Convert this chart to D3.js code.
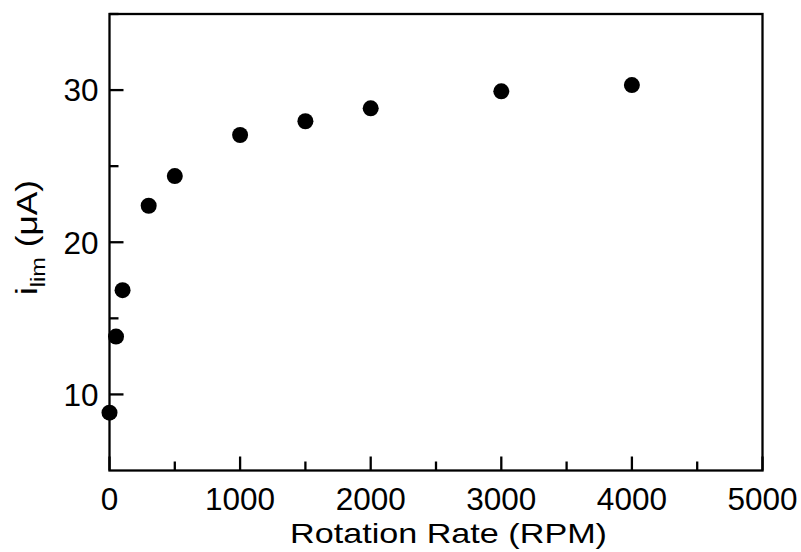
<html><head>
<meta charset="utf-8">
<script src="https://d3js.org/d3.v7.min.js"></script>
<style>
  body { margin: 0; background: #fff; }
  text { font-family: "Liberation Sans", Arial, sans-serif; fill: #000; }
  .frame { stroke: #000; stroke-width: 2.3px; fill: none; }
</style>
</head>
<body>
<svg id="chart" width="801" height="552"></svg>
<script>

// data
const rpm = [0, 50, 100, 300, 500, 1000, 1500, 2000, 3000, 4000];
const ilim = [8.8, 13.8, 16.85, 22.4, 24.35, 27.05, 27.95, 28.8, 29.92, 30.33];
const xMajor = [0, 1000, 2000, 3000, 4000, 5000];
const xMinor = [500, 1500, 2500, 3500, 4500];
const yMajor = [10, 20, 30];
const yMinor = [15, 25, 35];

const svg = d3.select("#chart");
const margin = { top: 14, right: 38.5, bottom: 81.5, left: 109.5 };
const width = 801, height = 552;

const x = d3.scaleLinear().domain([0, 5000]).range([margin.left, width - margin.right]);
const y = d3.scaleLinear().domain([5, 35]).range([height - margin.bottom, margin.top]);

// frame
svg.append("rect").attr("class", "frame")
  .attr("x", x(0)).attr("y", y(35))
  .attr("width", x(5000) - x(0)).attr("height", y(5) - y(35));

// x axis: inward ticks, labels below
const xAxisG = svg.append("g").attr("transform", "translate(0," + y(5) + ")");
xAxisG.selectAll(".major").data(xMajor).enter().append("line")
  .attr("class", "major").attr("stroke", "#000").attr("stroke-width", 2.3)
  .attr("x1", d => x(d)).attr("x2", d => x(d)).attr("y1", 0).attr("y2", -14);
xAxisG.selectAll(".minor").data(xMinor).enter().append("line")
  .attr("class", "minor").attr("stroke", "#000").attr("stroke-width", 2.3)
  .attr("x1", d => x(d)).attr("x2", d => x(d)).attr("y1", 0).attr("y2", -9);
xAxisG.selectAll("text").data(xMajor).enter().append("text")
  .attr("x", d => x(d)).attr("y", 39.5)
  .attr("text-anchor", "middle").style("font-size", "31.5px")
  .text(d => d);

// y axis
const yAxisG = svg.append("g").attr("transform", "translate(" + x(0) + ",0)");
yAxisG.selectAll(".major").data(yMajor).enter().append("line")
  .attr("class", "major").attr("stroke", "#000").attr("stroke-width", 2.3)
  .attr("y1", d => y(d)).attr("y2", d => y(d)).attr("x1", 0).attr("x2", 14);
yAxisG.selectAll(".minor").data(yMinor).enter().append("line")
  .attr("class", "minor").attr("stroke", "#000").attr("stroke-width", 2.3)
  .attr("y1", d => y(d)).attr("y2", d => y(d)).attr("x1", 0).attr("x2", 9);
yAxisG.selectAll("text").data(yMajor).enter().append("text")
  .attr("x", -11).attr("y", d => y(d)).attr("dy", "0.36em")
  .attr("text-anchor", "end").style("font-size", "31.5px")
  .text(d => d);

// axis titles
svg.append("text")
  .attr("x", 290).attr("y", 542.5)
  .attr("textLength", 317).attr("lengthAdjust", "spacingAndGlyphs")
  .style("font-size", "28px")
  .text("Rotation Rate (RPM)");

const yTitle = svg.append("text")
  .attr("transform", "translate(37,295) rotate(-90)")
  .attr("textLength", 115).attr("lengthAdjust", "spacingAndGlyphs")
  .style("font-size", "30px");
yTitle.append("tspan").text("i");
yTitle.append("tspan").attr("dy", 8).style("font-size", "20px").text("lim");
yTitle.append("tspan").attr("dy", -8).text(" (μA)");

// points
svg.append("g").selectAll("circle").data(rpm).enter().append("circle")
  .attr("cx", d => x(d))
  .attr("cy", (d, i) => y(ilim[i]))
  .attr("r", 8)
  .attr("fill", "#000");

</script>
</body>
</html>
